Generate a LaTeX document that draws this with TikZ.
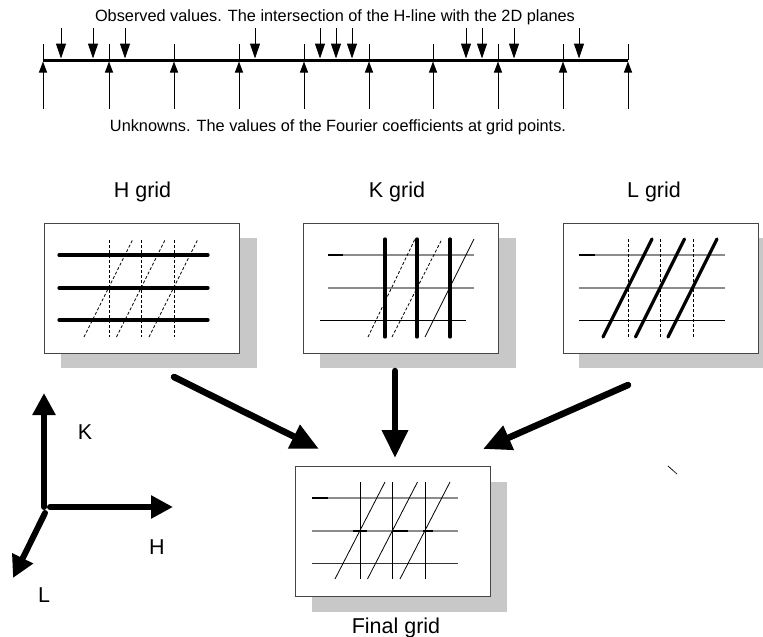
\documentclass[tikz,border=0pt]{standalone}
\usepackage{fontspec}
\setmainfont{Liberation Sans}
\usetikzlibrary{arrows.meta}
\definecolor{shadowgray}{RGB}{200,200,200}
\definecolor{boxline}{RGB}{70,70,70}
\definecolor{lgray}{RGB}{140,140,140}
\begin{document}
\begin{tikzpicture}[x=1pt,y=-1pt,
  obs/.style={line width=1pt,-{Triangle[length=15pt,width=10pt]}},
  unk/.style={line width=1pt,-{Triangle[length=11pt,width=8pt]}},
  gridbox/.style={draw=boxline,line width=0.9pt,fill=white,minimum width=195pt,minimum height=130pt,anchor=north west,inner sep=0pt},
  thickln/.style={line width=3.2pt,line cap=round},
  dashln/.style={line width=0.8pt,dash pattern=on 3pt off 2pt},
  thinln/.style={line width=0.8pt},
  grayln/.style={line width=1.2pt,color=lgray},
  bigarrow/.style={line width=6.5pt,line cap=round,-{Triangle[length=28pt,width=25pt]}},
  axisarrow/.style={line width=6pt,line cap=round,-{Triangle[length=22pt,width=22pt]}},
  lbl/.style={font=\fontsize{21.5}{24}\selectfont},
  small/.style={font=\fontsize{16.3}{19}\selectfont}
]
\useasboundingbox (0,0) rectangle (763,637);

% ---------- top H-line ----------
\node[small] (obstext) at (335,17) {Observed values. The intersection of the H-line with the 2D planes};
\node[small] (unktext) at (338,127) {Unknowns. The values of the Fourier coefficients at grid points.};
\coordinate (hl0) at (43,60);
\coordinate (hl1) at (628,60);
\draw[line width=3pt] (hl0) -- (hl1);
\foreach \x in {43,109,174,239,304,369,433,498,563,628}{
  \draw[line width=1pt] (\x,44) -- (\x,60);
  \draw[unk] (\x,109) -- (\x,61.5);
}
\foreach \x in {61,93,125,255,320,336,352,466,482,514,579}{
  \draw[obs] (\x,28) -- (\x,58.5);
}

% ---------- shadows ----------
\fill[shadowgray] (61,238) rectangle (257,368);
\fill[shadowgray] (320,238) rectangle (516,368);
\fill[shadowgray] (579,238) rectangle (775,368);
\fill[shadowgray] (312,482) rectangle (507,612);

% ---------- boxes ----------
\node[gridbox] (hbox) at (44,223) {};
\node[gridbox] (kbox) at (303,223) {};
\node[gridbox] (lbox) at (563,223) {};
\node[gridbox] (fbox) at (295,466) {};

\node[lbl] (htitle) at (142.5,192) {H grid};
\node[lbl] (ktitle) at (397,192) {K grid};
\node[lbl] (ltitle) at (654,192) {L grid};
\node[lbl] (ftitle) at (396,628) {Final grid};

% ---------- H grid ----------
\foreach \y in {255,288,320}{\draw[thickln] (59,\y) -- (208,\y);}
\draw[line width=4pt] (59,255) -- (77,255);
\foreach \x in {109,141,174}{\draw[dashln] (\x,240) -- (\x,337);}
\foreach \d in {0,32.5,65}{\draw[dashln] (84+\d,337) -- (133+\d,239);}

% ---------- K grid ----------
\draw[grayln] (328,255) -- (474,255);
\draw[line width=1.6pt] (328,255) -- (343,255);
\draw[grayln] (328,288) -- (474,288);
\draw[thinln] (320,320) -- (466,320);
\foreach \x in {385,417,450}{\draw[thickln] (\x,239) -- (\x,337);}
\draw[dashln] (368,337) -- (415,239);
\draw[dashln] (392,337) -- (442,239);
\draw[thinln] (425,337) -- (474,239);

% ---------- L grid ----------
\draw[grayln] (579,255) -- (725,255);
\draw[line width=1.6pt] (579,255) -- (595,255);
\draw[grayln] (579,288) -- (725,288);
\draw[thinln] (579,320) -- (725,320);
\foreach \x in {628,660,693}{\draw[dashln] (\x,239) -- (\x,337);}
\foreach \d in {0,32.5,65}{\draw[thickln] (603+\d,337) -- (652+\d,239);}

% ---------- Final grid ----------
\draw[grayln] (312,498) -- (458,498);
\draw[line width=1.6pt] (312,498) -- (328,498);
\draw[grayln] (312,531) -- (458,531);
\draw[thinln,color=black!80] (312,563) -- (458,563);
\foreach \x in {360,392,425}{\draw[thinln] (\x,482) -- (\x,579);}
\foreach \d in {0,32.5,65}{\draw[thinln] (335+\d,579) -- (385+\d,482);}
\draw[line width=1.8pt] (353,531) -- (367,531);
\draw[line width=1.8pt] (392,531) -- (408,531);
\draw[line width=1.8pt] (423,531) -- (433,531);

% ---------- big arrows ----------
\coordinate (ha) at (174,377);
\coordinate (ht) at (319,449);
\coordinate (ka) at (395,371);
\coordinate (kt) at (395,458);
\coordinate (la) at (628,385);
\coordinate (lt) at (483,449);
\draw[bigarrow] (ha) -- (ht);
\draw[bigarrow] (ka) -- (kt);
\draw[bigarrow] (la) -- (lt);

% ---------- axes ----------
\coordinate (o) at (44,507);
\coordinate (kax) at (44,393);
\coordinate (hax0) at (50,507);
\coordinate (hax) at (173,507);
\coordinate (lax0) at (45,513);
\coordinate (lax) at (13,578);
\draw[axisarrow] (o) -- (kax);
\draw[axisarrow] (hax0) -- (hax);
\draw[axisarrow] (lax0) -- (lax);
\node[lbl] (klbl) at (85,432) {K};
\node[lbl] (hlbl) at (157,547) {H};
\node[lbl] (llbl) at (44,595) {L};

% stray mark
\coordinate (s0) at (668,466);
\coordinate (s1) at (677,474);
\draw[line width=0.8pt,dash pattern=on 1pt off 0.5pt] (s0) -- (s1);
\end{tikzpicture}
\end{document}
